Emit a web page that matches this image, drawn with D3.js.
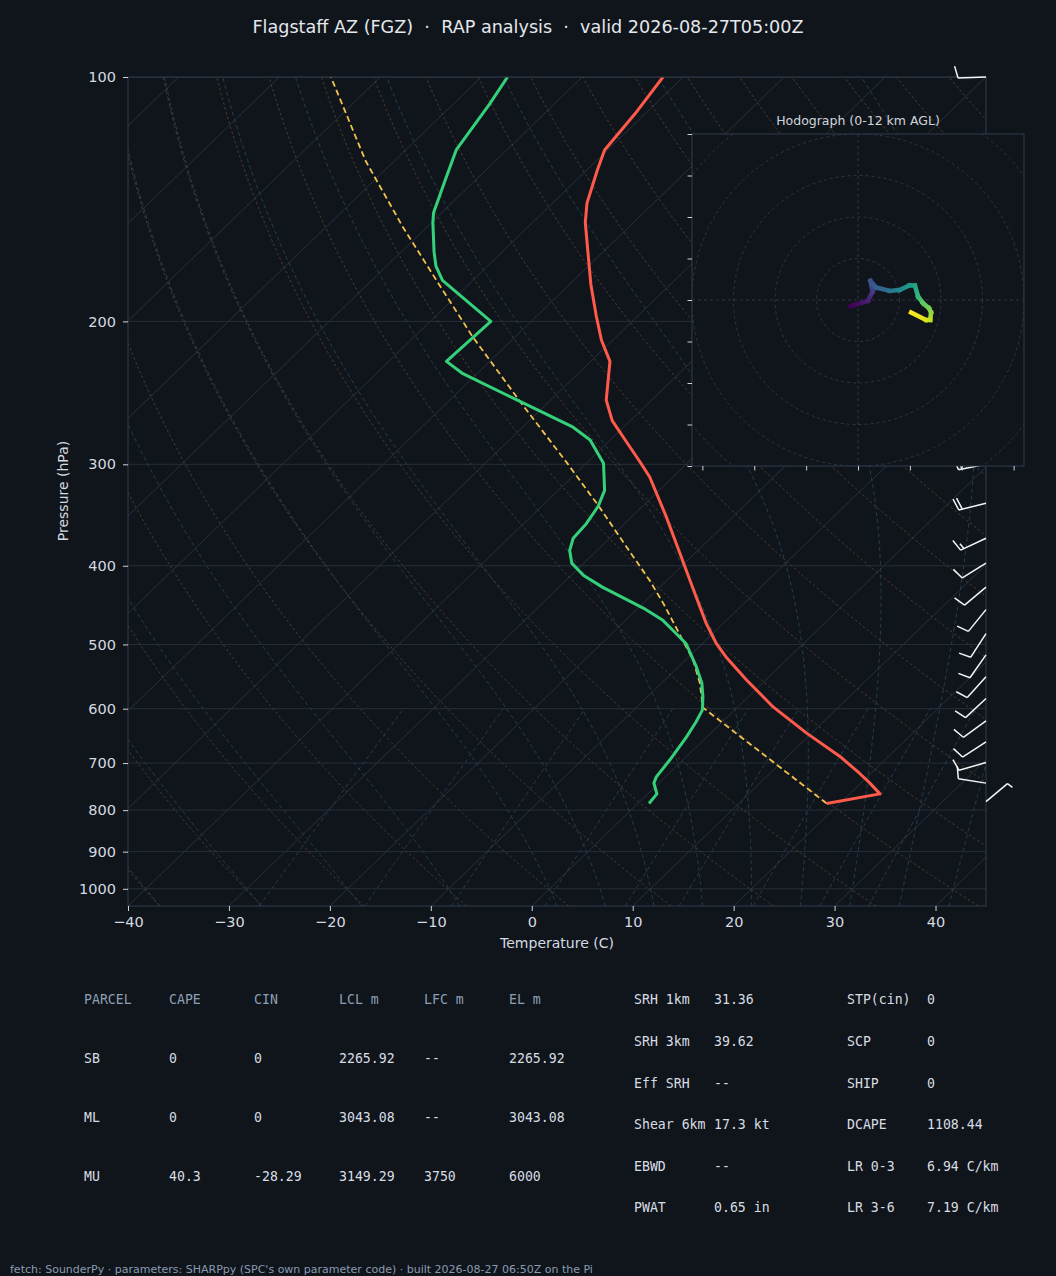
<!DOCTYPE html>
<html><head><meta charset="utf-8">
<script src="https://cdn.jsdelivr.net/npm/d3@7"></script>
<style>html,body{margin:0;padding:0;background:#10151c;} svg{display:block;}</style>
</head><body><svg id="c" width="1056" height="1276"></svg>
<script>
// ---------------- data ----------------
const titleText = "Flagstaff AZ (FGZ)  \u00b7  RAP analysis  \u00b7  valid 2026-08-27T05:00Z";
const footerText = "fetch: SounderPy \u00b7 parameters: SHARPpy (SPC's own parameter code) \u00b7 built 2026-08-27 06:50Z on the Pi";

const pressureTicks = [100,200,300,400,500,600,700,800,900,1000];
const tempTicks = [-40,-30,-20,-10,0,10,20,30,40];

// environmental temperature (hPa, degC)
const tempP = [785,764,741,721,687,643,597,553,518,499,471,437,386,348,311,298,282,265,250,224,211,197,180,163,151,143,130,123,111,100];
const tempT = [18.7,23.0,20.9,18.9,15.2,9.5,3.5,-1.9,-6.3,-8.6,-11.7,-15.4,-21.5,-26.6,-32.3,-34.8,-38.1,-41.8,-44.5,-48.1,-51.1,-54.1,-57.9,-61.8,-64.8,-66.6,-69.0,-70.3,-71.0,-72.0];

// dewpoint
const dewP = [785,764,741,728,694,650,623,602,580,558,533,499,485,467,451,425,411,397,383,370,355,338,323,299,280,270,251,232,224,200,178,171,164,151,147,134,123,108,100];
const dewT = [1.1,0.9,-0.5,-0.9,-1.3,-2.0,-2.6,-3.2,-4.5,-6.0,-8.2,-11.6,-13.6,-16.3,-19.5,-25.7,-28.8,-31.2,-32.7,-33.6,-33.8,-34.4,-35.4,-38.3,-42.0,-45.0,-52.9,-61.4,-64.3,-64.0,-73.0,-75.1,-76.8,-79.9,-80.8,-83.0,-85.0,-86.4,-87.4];

// surface parcel trace
const parcelP = [785,598,558,523,485,445,417,375,337,299,251,209,178,153,127,100];
const parcelT = [18.7,-3.4,-6.2,-9.2,-13.3,-18.0,-21.7,-28.1,-34.5,-41.9,-52.9,-64.2,-73.6,-82.4,-92.8,-104.9];

// wind barbs (hPa, direction deg, speed kt)
const windP   = [100,300,335,370,397,425,453,485,515,548,583,621,659,699,741,781];
const windDir = [268,259,256,245,238,230,219,213,215,222,227,234,237,254,279,50];
const windSpd = [10,20,20,15,10,10,10,10,10,10,10,10,10,10,10,5];

// hodograph (kt) and height (km AGL)
const hodoU = [-1.8,2.4,3.5,3.0,4.4,7.6,10.0,12.4,13.7,14.5,15.7,17.1,17.6,17.4,16.4,12.8];
const hodoV = [-1.5,-0.2,2.0,4.6,3.0,2.2,2.4,3.5,3.5,0.8,-0.8,-2.0,-3.0,-4.8,-4.8,-3.0];
const hodoH = [0,1,2,3,3.6,4.5,5.5,6.5,7,8,9,9.5,10,10.8,11.3,12];
const hodoRings = [10,20,30,40,50,60];
const hodoTicksV = [-40,-30,-20,-10,0,10,20,30,40];
const hodoTicksU = [-37.5,-25,-12.5,0,12.5,25,37.5];

// parameter tables
const parcelHeaders = ['PARCEL','CAPE','CIN','LCL m','LFC m','EL m'];
const parcelRows = [
  ['SB','0','0','2265.92','--','2265.92'],
  ['ML','0','0','3043.08','--','3043.08'],
  ['MU','40.3','-28.29','3149.29','3750','6000']
];
const idxLabels1 = ['SRH 1km','SRH 3km','Eff SRH','Shear 6km','EBWD','PWAT'];
const idxValues1 = ['31.36','39.62','--','17.3 kt','--','0.65 in'];
const idxLabels2 = ['STP(cin)','SCP','SHIP','DCAPE','LR 0-3','LR 3-6'];
const idxValues2 = ['0','0','0','1108.44','6.94 C/km','7.19 C/km'];

// reference line families
const dryTheta = d3.range(233, 533, 10);                       // K at 1000 hPa
const moistT0  = [-40,-30,-20,-10,0,5,10,15,20,25,30,35,40,45]; // degC at 1000 hPa
const mixRatios = [0.4,1,2,4,7,10,16,24,32];                   // g/kg

// ---------------- setup ----------------
const W=1056, H=1276;
const M={l:128, r:986, t:77, b:906};
const BG='#10151c';
const svg=d3.select('#c');
svg.append('rect').attr('width',W).attr('height',H).attr('fill',BG);
const defs=svg.append('defs');
defs.append('clipPath').attr('id','plotClip').append('rect')
  .attr('x',M.l).attr('y',M.t).attr('width',M.r-M.l).attr('height',M.b-M.t);

const x=d3.scaleLinear().domain([-40,45]).range([M.l,M.r]);
const y=d3.scaleLog().domain([1050,100]).range([M.b,M.t]);
const skewK=(M.r-M.l)/(M.b-M.t);
const sx=(T,P)=>x(T)+(M.b-y(P))*skewK;
const pline=d3.line().x(d=>sx(d[1],d[0])).y(d=>y(d[0]));

const plot=svg.append('g').attr('clip-path','url(#plotClip)');

// isobars
plot.selectAll('line.isobar').data(pressureTicks).join('line')
  .attr('x1',M.l).attr('x2',M.r).attr('y1',d=>y(d)).attr('y2',d=>y(d))
  .attr('stroke','#262e38').attr('stroke-width',1);

// isotherms
plot.selectAll('line.iso').data(d3.range(-160,60,10)).join('line')
  .attr('x1',d=>sx(d,1050)).attr('y1',y(1050)).attr('x2',d=>sx(d,100)).attr('y2',y(100))
  .attr('stroke','#29313c').attr('stroke-width',1);

const pLevels=d3.range(1050,99,-5);
// dry adiabats
dryTheta.forEach(th=>{
  const pts=pLevels.map(p=>[p, th*Math.pow(p/1000,0.2857)-273.15]);
  plot.append('path').attr('d',pline(pts)).attr('fill','none')
    .attr('stroke','#4d3c2b').attr('stroke-width',1).attr('stroke-dasharray','2.5,2.5');
});
// moist adiabats
const Rd=287.04749, Lv=2.50084e6, Cp=1004.666, eps=0.622;
const es=T=>{const c=T-273.15; return 6.112*Math.exp(17.67*c/(c+243.5));};
const rsat=(p,T)=>{const e=es(T); return eps*e/Math.max(p-e,1e-3);};
const dTdp=(p,T)=>{const r=rsat(p,T); return (Rd*T+Lv*r)/(Cp+Lv*Lv*r*eps/(Rd*T*T))/p;};
function integrate(T0,p0,p1,h){
  const out=[]; let T=T0;
  for(let p=p0; (h<0? p>=p1 : p<=p1); p+=h){
    out.push([p,T-273.15]);
    const k1=dTdp(p,T), k2=dTdp(p+h/2,T+h/2*k1), k3=dTdp(p+h/2,T+h/2*k2), k4=dTdp(p+h,T+h*k3);
    T+=h/6*(k1+2*k2+2*k3+k4);
  }
  return out;
}
moistT0.forEach(t0=>{
  const tk=t0+273.15;
  const up=integrate(tk,1000,100,-5);
  const dn=integrate(tk,1000,1050,5).slice(1).reverse();
  const pts=dn.concat(up);
  plot.append('path').attr('d',pline(pts)).attr('fill','none')
    .attr('stroke','#22404a').attr('stroke-width',1).attr('stroke-dasharray','4,3');
});
// mixing ratio lines (600-1050 hPa)
const pMix=d3.range(1050,599,-5);
mixRatios.forEach(w=>{
  const ww=w/1000;
  const pts=pMix.map(p=>{const e=ww*p/(eps+ww); const l=Math.log(e/6.112); return [p, 243.5*l/(17.67-l)];});
  plot.append('path').attr('d',pline(pts)).attr('fill','none')
    .attr('stroke','#2a3a50').attr('stroke-width',1).attr('stroke-dasharray','4,3');
});

// profiles
const zipPT=(P,T)=>P.map((p,i)=>[p,T[i]]);
plot.append('path').attr('d',pline(zipPT(parcelP,parcelT))).attr('fill','none')
  .attr('stroke','#f3c24c').attr('stroke-width',1.8).attr('stroke-dasharray','6,3.5');
plot.append('path').attr('d',pline(zipPT(dewP,dewT))).attr('fill','none')
  .attr('stroke','#35d07a').attr('stroke-width',3).attr('stroke-linejoin','round');
plot.append('path').attr('d',pline(zipPT(tempP,tempT))).attr('fill','none')
  .attr('stroke','#ff5a4a').attr('stroke-width',3).attr('stroke-linejoin','round');

// frame
svg.append('rect').attr('x',M.l).attr('y',M.t).attr('width',M.r-M.l).attr('height',M.b-M.t)
  .attr('fill','none').attr('stroke','#313c4a').attr('stroke-width',1);

// axes
const TXT='#d5dae0';
const fmtT=d=>d<0?'\u2212'+Math.abs(d):String(d);
const yAxis=svg.append('g').attr('transform',`translate(${M.l},0)`)
  .call(d3.axisLeft(y).tickValues(pressureTicks).tickFormat(d3.format('d')).tickSize(5).tickPadding(7));
const xAxis=svg.append('g').attr('transform',`translate(0,${M.b})`)
  .call(d3.axisBottom(x).tickValues(tempTicks).tickFormat(fmtT).tickSize(5).tickPadding(5.5));
[yAxis,xAxis].forEach(a=>{
  a.select('.domain').remove();
  a.selectAll('line').attr('stroke','#cdd3da');
  a.selectAll('text').attr('fill',TXT).style('font-family','DejaVu Sans').style('font-size','14.5px');
});
svg.append('text').attr('x',557).attr('y',943).attr('text-anchor','middle').attr('dominant-baseline','central')
  .attr('fill',TXT).style('font-family','DejaVu Sans').style('font-size','14px').text('Temperature (C)');
svg.append('text').attr('transform','translate(63,491) rotate(-90)').attr('text-anchor','middle').attr('dominant-baseline','central')
  .attr('fill',TXT).style('font-family','DejaVu Sans').style('font-size','14px').text('Pressure (hPa)');

// title
svg.append('text').attr('x',528).attr('y',27).attr('text-anchor','middle').attr('dominant-baseline','central')
  .attr('fill','#e4e8ec').style('font-family','DejaVu Sans').style('font-size','17.6px').style('white-space','pre')
  .text(titleText);

// wind barbs
const barbG=svg.append('g');
function barb(x0,y0,dir,spd){
  const rad=dir*Math.PI/180, dx=Math.sin(rad), dy=-Math.cos(rad);
  const px=-dy, py=dx;
  const L=28, bl=12, sp=3.6, out=3;
  const tx=x0+dx*L, ty=y0+dy*L;
  let d=`M${x0},${y0}L${tx},${ty}`;
  let s=Math.round(spd/5)*5;
  const full=Math.floor(s/10); s-=full*10;
  const half=s>=5;
  let pos=0;
  for(let i=0;i<full;i++){
    const bx=tx-dx*pos, by=ty-dy*pos;
    d+=`M${bx},${by}L${bx+px*bl+dx*out},${by+py*bl+dy*out}`;
    pos+=sp;
  }
  if(half){
    const bx=tx-dx*pos, by=ty-dy*pos;
    d+=`M${bx},${by}L${bx+px*bl/2+dx*out/2},${by+py*bl/2+dy*out/2}`;
  }
  barbG.append('path').attr('d',d).attr('fill','none').attr('stroke','#f2f4f6').attr('stroke-width',1.5);
}
windP.forEach((p,i)=>barb(M.r,y(p),windDir[i],windSpd[i]));

// ---------------- hodograph ----------------
const HX0=692, HX1=1024, HY0=134, HY1=466;
const hx=d3.scaleLinear().domain([-40,40]).range([HX0,HX1]);
const hy=d3.scaleLinear().domain([-40,40]).range([HY1,HY0]);
defs.append('clipPath').attr('id','hodoClip').append('rect')
  .attr('x',HX0).attr('y',HY0).attr('width',HX1-HX0).attr('height',HY1-HY0);
const hg=svg.append('g');
hg.append('rect').attr('x',HX0).attr('y',HY0).attr('width',HX1-HX0).attr('height',HY1-HY0).attr('fill',BG);
const hin=hg.append('g').attr('clip-path','url(#hodoClip)');
hin.selectAll('circle').data(hodoRings).join('circle')
  .attr('cx',hx(0)).attr('cy',hy(0)).attr('r',d=>hx(d)-hx(0))
  .attr('fill','none').attr('stroke','#2c3643').attr('stroke-width',1).attr('stroke-dasharray','3,3');
hin.append('line').attr('x1',HX0).attr('x2',HX1).attr('y1',hy(0)).attr('y2',hy(0))
  .attr('stroke','#2c3643').attr('stroke-dasharray','3,3');
hin.append('line').attr('y1',HY0).attr('y2',HY1).attr('x1',hx(0)).attr('x2',hx(0))
  .attr('stroke','#2c3643').attr('stroke-dasharray','3,3');
const hmax=12;
for(let i=0;i<hodoU.length-1;i++){
  const x1=hx(hodoU[i]), y1=hy(hodoV[i]), x2=hx(hodoU[i+1]), y2=hy(hodoV[i+1]);
  const gid='hg'+i;
  const grad=defs.append('linearGradient').attr('id',gid).attr('gradientUnits','userSpaceOnUse')
    .attr('x1',x1).attr('y1',y1).attr('x2',x2).attr('y2',y2);
  grad.append('stop').attr('offset',0).attr('stop-color',d3.interpolateViridis(hodoH[i]/hmax));
  grad.append('stop').attr('offset',1).attr('stop-color',d3.interpolateViridis(hodoH[i+1]/hmax));
  hin.append('line').attr('x1',x1).attr('y1',y1).attr('x2',x2).attr('y2',y2)
    .attr('stroke',`url(#${gid})`).attr('stroke-width',4.5).attr('stroke-linecap','square');
}
hg.append('rect').attr('x',HX0).attr('y',HY0).attr('width',HX1-HX0).attr('height',HY1-HY0)
  .attr('fill','none').attr('stroke','#313c4a').attr('stroke-width',1);
const hya=hg.append('g').attr('transform',`translate(${HX0},0)`)
  .call(d3.axisLeft(hy).tickValues(hodoTicksV).tickFormat(()=>'').tickSize(4.5));
const hxa=hg.append('g').attr('transform',`translate(0,${HY1})`)
  .call(d3.axisBottom(hx).tickValues(hodoTicksU).tickFormat(()=>'').tickSize(4.5));
[hya,hxa].forEach(a=>{a.select('.domain').remove(); a.selectAll('line').attr('stroke','#cdd3da');});
hg.append('text').attr('x',858).attr('y',120).attr('text-anchor','middle').attr('dominant-baseline','central')
  .attr('fill','#d0d5db').style('font-family','DejaVu Sans').style('font-size','12.5px').text('Hodograph (0-12 km AGL)');

// ---------------- tables ----------------
const MONO='DejaVu Sans Mono';
const colX=[84,169,254,339,424,509];
const rowY=[999,1058,1117,1176];
const tg=svg.append('g').style('font-family',MONO).style('font-size','13.2px');
parcelHeaders.forEach((h,j)=>tg.append('text').attr('x',colX[j]).attr('y',rowY[0]).attr('dominant-baseline','central')
  .attr('fill','#8d9fb5').style('white-space','pre').text(h));
parcelRows.forEach((r,i)=>r.forEach((v,j)=>tg.append('text').attr('x',colX[j]).attr('y',rowY[i+1])
  .attr('dominant-baseline','central').attr('fill','#d8dde3').style('white-space','pre').text(v)));
const idxY=[999,1041,1083,1124,1166,1207];
idxLabels1.forEach((l,i)=>{
  tg.append('text').attr('x',634).attr('y',idxY[i]).attr('dominant-baseline','central').attr('fill','#d8dde3').style('white-space','pre').text(l);
  tg.append('text').attr('x',714).attr('y',idxY[i]).attr('dominant-baseline','central').attr('fill','#d8dde3').style('white-space','pre').text(idxValues1[i]);
});
idxLabels2.forEach((l,i)=>{
  tg.append('text').attr('x',847).attr('y',idxY[i]).attr('dominant-baseline','central').attr('fill','#d8dde3').style('white-space','pre').text(l);
  tg.append('text').attr('x',927).attr('y',idxY[i]).attr('dominant-baseline','central').attr('fill','#d8dde3').style('white-space','pre').text(idxValues2[i]);
});

// footer
svg.append('text').attr('x',10).attr('y',1269).attr('dominant-baseline','central')
  .attr('fill','#8a9bb0').style('font-family','DejaVu Sans').style('font-size','11px').text(footerText);
</script></body></html>
